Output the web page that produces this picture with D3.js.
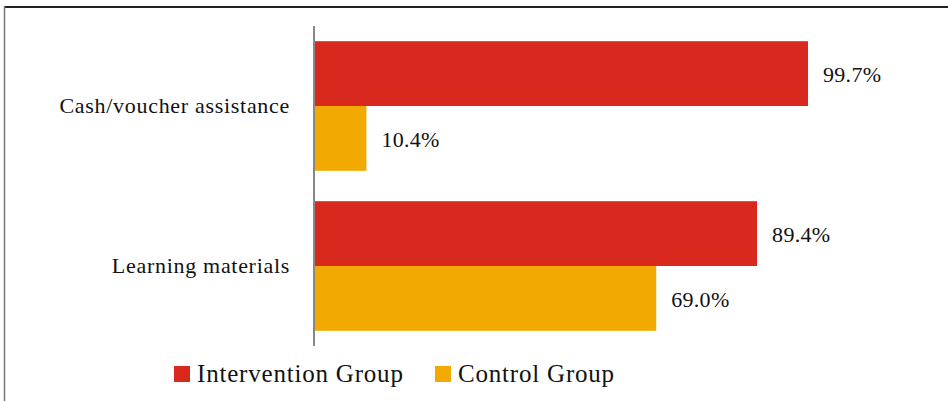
<!DOCTYPE html>
<html><head><meta charset="utf-8">
<script src="https://cdn.jsdelivr.net/npm/d3@7"></script>
<style>html,body{margin:0;padding:0;background:#fff;}svg{display:block;}</style>
</head><body>
<script>
const categories = ["Cash/voucher assistance", "Learning materials"];
const seriesNames = ["Intervention Group", "Control Group"];
const intervention = [99.7, 89.4];
const control = [10.4, 69.0];
const colors = ["#d9291f", "#f2a900"];

const W = 948, H = 401;
const svg = d3.select("body").append("svg").attr("width", W).attr("height", H);
const font = "'Liberation Serif', 'Times New Roman', serif";

// frame
svg.append("line").attr("x1", 4).attr("x2", W).attr("y1", 7).attr("y2", 7).attr("stroke", "#222").attr("stroke-width", 2);
svg.append("line").attr("x1", 4.5).attr("x2", 4.5).attr("y1", 6).attr("y2", H).attr("stroke", "#777").attr("stroke-width", 1.5);

const x = d3.scaleLinear().domain([0, 100]).range([315, 809.5]);
const y = d3.scaleBand().domain(categories).range([26, 346]).paddingInner(0.19).paddingOuter(0.095);
const sub = d3.scaleBand().domain(seriesNames).range([0, y.bandwidth()]);

const data = categories.map((c, i) => ({cat: c, vals: [intervention[i], control[i]]}));

const g = svg.append("g");
data.forEach(d => {
  d.vals.forEach((v, j) => {
    g.append("rect")
      .attr("x", x(0)).attr("y", y(d.cat) + sub(seriesNames[j]))
      .attr("width", x(v) - x(0)).attr("height", sub.bandwidth())
      .attr("fill", colors[j]);
    g.append("text")
      .attr("x", x(v) + 15).attr("y", y(d.cat) + sub(seriesNames[j]) + sub.bandwidth() / 2)
      .attr("dy", "0.4em").attr("font-family", font).attr("font-size", 22).attr("letter-spacing", 0.3).attr("fill", "#111")
      .text(v.toFixed(1) + "%");
  });
});

// y axis
const yAxis = d3.axisLeft(y).tickSize(0).tickPadding(24);
const ag = svg.append("g").attr("transform", `translate(${x(0) - 1},0)`).call(yAxis);
ag.select(".domain").attr("stroke", "#888").attr("stroke-width", 2).attr("d", "M0,26V346");
ag.selectAll("text").attr("font-family", font).attr("font-size", 22).attr("letter-spacing", 0.7).attr("fill", "#111").attr("dy", "0.3em");

// legend
const legX = [174, 435];
const leg = svg.append("g");
seriesNames.forEach((s, j) => {
  leg.append("rect").attr("x", legX[j]).attr("y", 366).attr("width", 16).attr("height", 16).attr("fill", colors[j]);
  leg.append("text").attr("x", legX[j] + 23).attr("y", 382)
    .attr("font-family", font).attr("font-size", 25).attr("letter-spacing", 0.8).attr("fill", "#111").text(s);
});
</script>
</body></html>
